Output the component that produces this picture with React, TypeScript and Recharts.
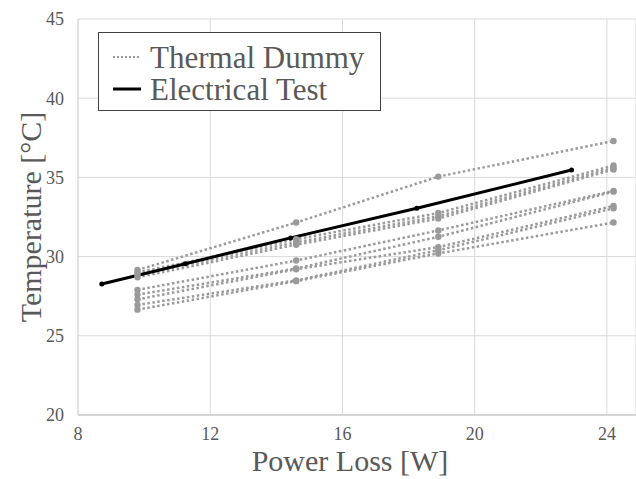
import React from "react";
import { LineChart, Line, XAxis, YAxis, CartesianGrid } from "recharts";

// Power loss columns of the thermal dummy measurements [W]
const dummyPower = [9.8, 14.6, 18.9, 24.2];
// Thermal dummy temperatures [°C], one array per dummy
const dummy1 = [29.15, 32.15, 35.05, 37.3];
const dummy2 = [29.0, 31.1, 32.75, 35.75];
const dummy3 = [28.85, 30.9, 32.55, 35.6];
const dummy4 = [28.7, 30.75, 32.4, 35.5];
const dummy5 = [27.9, 29.75, 31.65, 34.15];
const dummy6 = [27.6, 29.25, 31.25, 34.1];
const dummy7 = [27.3, 29.2, 30.6, 33.2];
const dummy8 = [26.95, 28.5, 30.4, 33.05];
const dummy9 = [26.65, 28.45, 30.2, 32.15];
const dummies = [dummy1, dummy2, dummy3, dummy4, dummy5, dummy6, dummy7, dummy8, dummy9];

// Electrical test
const elecPower = [8.72, 11.25, 14.43, 18.25, 22.93];
const elecTemp = [28.27, 29.55, 31.18, 33.05, 35.47];

const xTicks = [8, 12, 16, 20, 24];
const yTicks = [20, 25, 30, 35, 40, 45];

const FONT = "'Liberation Serif', 'Times New Roman', serif";
const TEXT = "#595959";
const DUMMY = "#9a9a9a";

const toPoints = (xs: number[], ys: number[]) => xs.map((x, i) => ({ x, y: ys[i] }));

const XTitle = () => (
  <text x={350} y={471} textAnchor="middle" fontFamily={FONT} fontSize={30} fill={TEXT}>
    Power Loss [W]
  </text>
);

const YTitle = () => (
  <text
    x={30}
    y={217}
    transform="rotate(-90, 30, 217)"
    textAnchor="middle"
    dominantBaseline="central"
    fontFamily={FONT}
    fontSize={30}
    fill={TEXT}
  >
    Temperature [°C]
  </text>
);

export default function App() {
  return (
    <div style={{ position: "absolute", left: 0, top: 0, width: 636, height: 479, background: "#fff" }}>
      <LineChart width={636} height={479} margin={{ top: 19, right: 0, bottom: 0, left: 0 }}>
        <CartesianGrid stroke="#d9d9d9" strokeWidth={1} />
        <XAxis
          type="number"
          dataKey="x"
          domain={[8, 24.88]}
          ticks={xTicks}
          allowDataOverflow
          height={64}
          tickSize={0}
          tickMargin={12}
          axisLine={{ stroke: "#bfbfbf" }}
          tick={{ fill: TEXT, fontSize: 18, fontFamily: FONT }}
          label={<XTitle />}
        />
        <YAxis
          type="number"
          dataKey="y"
          domain={[20, 45]}
          ticks={yTicks}
          allowDataOverflow
          width={78}
          tickSize={0}
          tickMargin={14}
          axisLine={{ stroke: "#d9d9d9" }}
          tick={{ fill: TEXT, fontSize: 18, fontFamily: FONT }}
          label={<YTitle />}
        />
        {dummies.map((d, i) => (
          <Line
            key={"d" + i}
            data={toPoints(dummyPower, d)}
            dataKey="y"
            type="linear"
            stroke={DUMMY}
            strokeWidth={2.5}
            strokeDasharray="2.5 2.5"
            dot={{ r: 3.2, fill: DUMMY, stroke: "none" }}
            activeDot={false}
            isAnimationActive={false}
          />
        ))}
        <Line
          data={toPoints(elecPower, elecTemp)}
          dataKey="y"
          type="linear"
          stroke="#000"
          strokeWidth={3}
          dot={{ r: 2.5, fill: "#000", stroke: "none" }}
          activeDot={false}
          isAnimationActive={false}
        />
      </LineChart>
      <svg style={{ position: "absolute", left: 98, top: 32 }} width={284} height={80}>
        <rect x={0.5} y={0.5} width={282} height={78} fill="#fff" stroke="#404040" strokeWidth={1} />
        <line x1={15} y1={25} x2={42} y2={25} stroke={DUMMY} strokeWidth={2} strokeDasharray="2 2" />
        <text x={52} y={25} dominantBaseline="central" fontFamily={FONT} fontSize={31} fill={TEXT}>
          Thermal Dummy
        </text>
        <line x1={15} y1={57} x2={43} y2={57} stroke="#000" strokeWidth={3} />
        <text x={52} y={57} dominantBaseline="central" fontFamily={FONT} fontSize={31} fill={TEXT}>
          Electrical Test
        </text>
      </svg>
    </div>
  );
}
